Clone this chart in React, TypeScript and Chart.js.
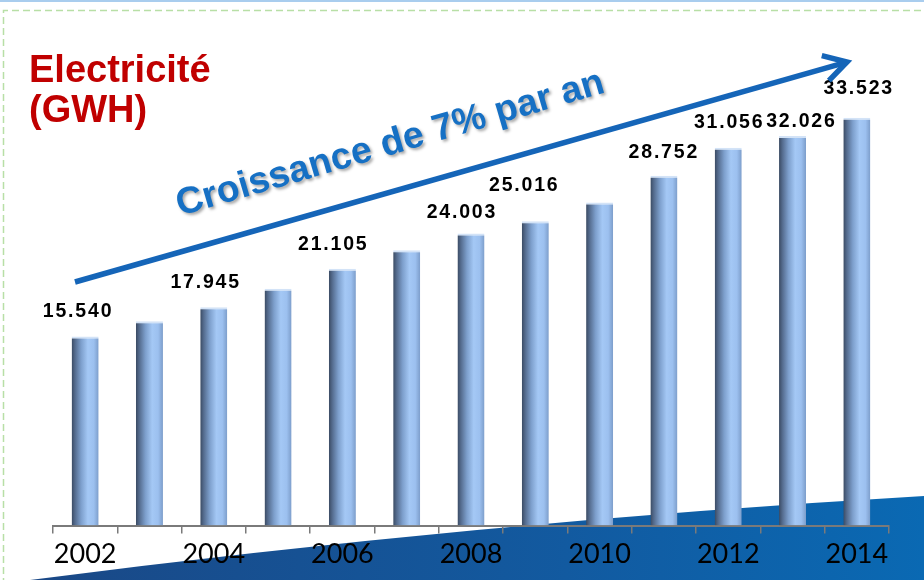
import { useEffect, useRef } from 'react';
import { Chart, registerables } from 'chart.js';

Chart.register(...registerables);

// ---- data ----
const YEARS = ['2002', '2003', '2004', '2005', '2006', '2007', '2008', '2009', '2010', '2011', '2012', '2013', '2014'];
// electricity production, thousands of GWh
const PRODUCTION = [15.54, 16.79, 17.945, 19.48, 21.105, 22.63, 24.003, 25.016, 26.55, 28.752, 31.056, 32.026, 33.523];
const LABELLED_YEARS = ['2002', '2004', '2006', '2008', '2009', '2011', '2012', '2013', '2014'];
const TICK_YEARS = ['2002', '2004', '2006', '2008', '2010', '2012', '2014'];
const TITLE_LINES = ['Electricité', '(GWH)'];
const TREND_TEXT = 'Croissance de 7% par an';
const Y_MAX = 40;

// ---- label styling nudges (dx, gap above bar top) ----
const LABEL_NUDGE: Record<string, [number, number]> = {
  '2002': [-8, 20],
  '2004': [-9, 19],
  '2006': [-10, 19],
  '2008': [-10, 16],
  '2009': [-12, 30],
  '2011': [-1, 18],
  '2012': [0, 20],
  '2013': [8, 9],
  '2014': [1, 24],
};

const BAR_FRACTION = 0.42;

function barGradient(context: any) {
  const chart = context.chart;
  const xs = chart.scales && chart.scales.x;
  if (!chart.chartArea || !xs || context.type !== 'data') return '#8fb3e0';
  const cx = xs.getPixelForValue(context.dataIndex);
  const w = (xs.width / YEARS.length) * BAR_FRACTION;
  const g = chart.ctx.createLinearGradient(cx - w / 2, 0, cx + w / 2, 0);
  g.addColorStop(0, '#3a4a62');
  g.addColorStop(0.12, '#536a8c');
  g.addColorStop(0.35, '#7d9fcc');
  g.addColorStop(0.6, '#a4c8f5');
  g.addColorStop(0.82, '#9cc0ef');
  g.addColorStop(1, '#7c9dca');
  return g;
}

const backgroundPlugin = {
  id: 'slideBackground',
  beforeDraw(chart: any) {
    const { ctx, width, height } = chart;
    ctx.save();
    ctx.fillStyle = '#ffffff';
    ctx.fillRect(0, 0, width, height);
    ctx.fillStyle = '#a9cdee';
    ctx.fillRect(0, 0, width, 2);
    ctx.strokeStyle = '#b8dfa6';
    ctx.lineWidth = 1.5;
    ctx.setLineDash([7, 4]);
    ctx.beginPath();
    ctx.moveTo(3.5, height + 5);
    ctx.lineTo(3.5, 10.5);
    ctx.lineTo(width + 5, 10.5);
    ctx.stroke();
    ctx.setLineDash([]);
    const g = ctx.createLinearGradient(30, 0, width, 0);
    g.addColorStop(0, '#1a4886');
    g.addColorStop(0.6, '#125aa0');
    g.addColorStop(1, '#0a69b3');
    ctx.fillStyle = g;
    ctx.beginPath();
    ctx.moveTo(30, height);
    ctx.quadraticCurveTo(477, 522, width, 496);
    ctx.lineTo(width, height);
    ctx.closePath();
    ctx.fill();
    ctx.restore();
  },
};

const overlayPlugin = {
  id: 'overlay',
  afterDraw(chart: any) {
    const { ctx } = chart;
    const xs = chart.scales.x;
    const ys = chart.scales.y;
    ctx.save();

    // title
    ctx.fillStyle = '#c00000';
    ctx.font = 'bold 38px "Liberation Sans", Arial, sans-serif';
    ctx.textAlign = 'left';
    ctx.textBaseline = 'alphabetic';
    ctx.fillText(TITLE_LINES[0], 29, 82);
    ctx.fillText(TITLE_LINES[1], 29, 122);

    // value labels
    ctx.fillStyle = '#000000';
    ctx.font = 'bold 19.5px "Liberation Sans", Arial, sans-serif';
    const ls = 1.8;
    (ctx as any).letterSpacing = ls + 'px';
    YEARS.forEach((yr, i) => {
      if (!LABELLED_YEARS.includes(yr)) return;
      const v = PRODUCTION[i];
      const txt = v.toFixed(3);
      const [dx, gap] = LABEL_NUDGE[yr] || [0, 20];
      const cx = xs.getPixelForValue(i) + dx;
      const top = ys.getPixelForValue(v);
      const w = ctx.measureText(txt).width - ls;
      ctx.fillText(txt, cx - w / 2, top - gap);
    });
    (ctx as any).letterSpacing = '0px';

    // trend arrow
    const x0 = 75, y0 = 282, x1 = 847, y1 = 62;
    const ang = Math.atan2(y1 - y0, x1 - x0);
    ctx.strokeStyle = '#1565b8';
    ctx.lineWidth = 5.5;
    ctx.lineCap = 'butt';
    ctx.beginPath();
    ctx.moveTo(x0, y0);
    ctx.lineTo(x1 - 3 * Math.cos(ang), y1 - 3 * Math.sin(ang));
    ctx.stroke();
    const L = 26, a = (30 * Math.PI) / 180;
    ctx.lineJoin = 'miter';
    ctx.beginPath();
    ctx.moveTo(x1 + L * Math.cos(ang + Math.PI - a), y1 + L * Math.sin(ang + Math.PI - a));
    ctx.lineTo(x1, y1);
    ctx.lineTo(x1 + L * Math.cos(ang + Math.PI + a), y1 + L * Math.sin(ang + Math.PI + a));
    ctx.stroke();

    // trend text
    ctx.save();
    ctx.translate(180, 216);
    ctx.rotate(-(16.2 * Math.PI) / 180);
    ctx.font = 'bold 37.5px "Liberation Sans", Arial, sans-serif';
    ctx.shadowColor = 'rgba(0,0,0,0.35)';
    ctx.shadowOffsetX = 2;
    ctx.shadowOffsetY = 2;
    ctx.shadowBlur = 3;
    ctx.fillStyle = '#1670c4';
    ctx.textAlign = 'left';
    ctx.fillText(TREND_TEXT, 0, 0);
    ctx.restore();

    ctx.restore();
  },
};

export default function App() {
  const ref = useRef<HTMLCanvasElement>(null);
  useEffect(() => {
    const chart = new Chart(ref.current!, {
      type: 'bar',
      data: {
        labels: YEARS,
        datasets: [
          {
            data: PRODUCTION,
            backgroundColor: barGradient as any,
            borderColor: '#d3e3f7',
            borderWidth: { top: 2, left: 0, right: 0, bottom: 0 } as any,
            borderSkipped: false as any,
            barPercentage: BAR_FRACTION,
            categoryPercentage: 1,
          },
        ],
      },
      options: {
        responsive: false,
        devicePixelRatio: 1,
        animation: false,
        layout: { padding: { left: 53, right: 35, top: 39, bottom: 6 } },
        plugins: {
          legend: { display: false },
          tooltip: { enabled: false },
          title: { display: false },
        },
        scales: {
          x: {
            offset: true,
            border: { display: true, color: '#7a7a7a', width: 2 },
            grid: {
              display: true,
              offset: true,
              drawOnChartArea: false,
              drawTicks: true,
              tickLength: 8,
              color: '#7a7a7a',
              lineWidth: 1.5,
            },
            ticks: {
              autoSkip: false,
              maxRotation: 0,
              padding: 4,
              color: '#000000',
              font: { family: 'Lato, "Open Sans", sans-serif', size: 27 },
              callback: (_v: any, i: number) => (TICK_YEARS.includes(YEARS[i]) ? YEARS[i] : ''),
            },
          },
          y: { display: false, min: 0, max: Y_MAX },
        },
      },
      plugins: [backgroundPlugin, overlayPlugin],
    });
    return () => chart.destroy();
  }, []);
  return (
    <div style={{ position: 'fixed', left: 0, top: 0, width: 924, height: 580 }}>
      <canvas ref={ref} width={924} height={580} style={{ display: 'block' }} />
    </div>
  );
}
